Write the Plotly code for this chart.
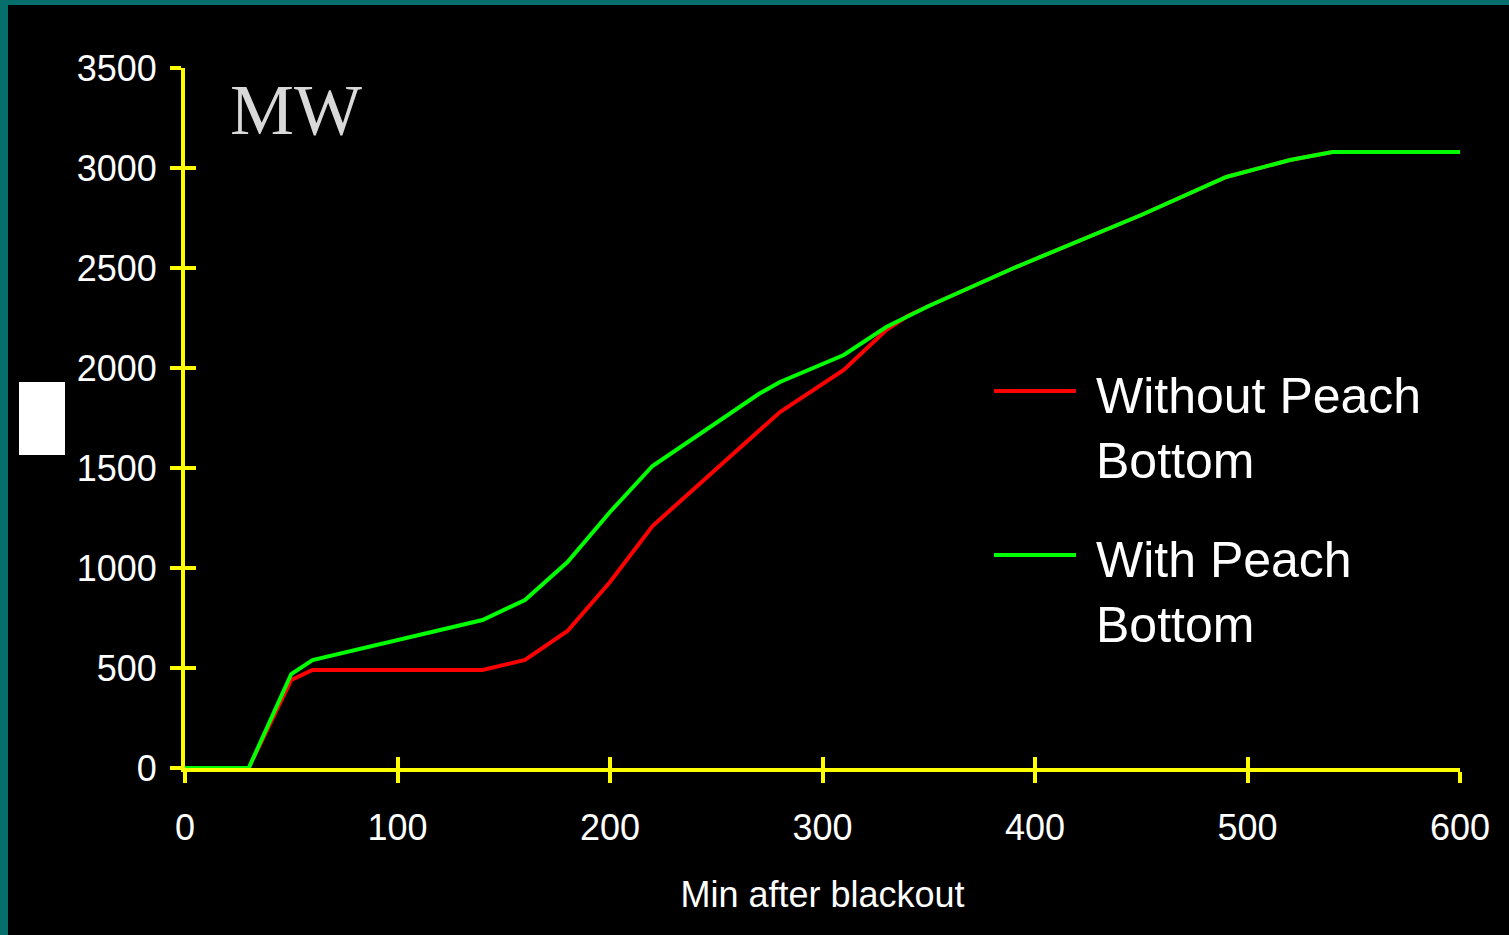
import plotly.graph_objects as go

# ---- data ----
minutes_without = [0, 30, 50, 60, 140, 160, 180, 200, 220, 270, 280, 310, 330, 340,
                   350, 390, 430, 450, 490, 520, 540, 600]
mw_without = [0, 0, 440, 490, 490, 540, 685, 930, 1210, 1690, 1780, 1990, 2190, 2260,
              2310, 2500, 2680, 2765, 2955, 3040, 3080, 3080]
minutes_with = [0, 30, 50, 60, 140, 160, 180, 200, 220, 270, 280, 310, 330, 340,
                350, 390, 430, 450, 490, 520, 540, 600]
mw_with = [0, 0, 470, 540, 740, 840, 1030, 1280, 1510, 1870, 1930, 2065, 2205, 2260,
           2310, 2500, 2680, 2765, 2955, 3040, 3080, 3080]
x_ticks = [0, 100, 200, 300, 400, 500, 600]
y_ticks = [0, 500, 1000, 1500, 2000, 2500, 3000, 3500]
series_names = ["Without Peach<br>Bottom", "With Peach<br>Bottom"]
series_colors = ["#ff0000", "#00ff00"]

W, H = 1509, 935
L, R, T, B = 185, 49, 68, 167
PW, PH = W - L - R, H - T - B


def px(x):
    return (x - L) / PW


def py(y):
    return (H - B - y) / PH


fig = go.Figure()
fig.add_trace(go.Scatter(x=minutes_without, y=mw_without, mode="lines",
                         line=dict(color=series_colors[0], width=4),
                         xaxis="x", yaxis="y", showlegend=False))
fig.add_trace(go.Scatter(x=minutes_with, y=mw_with, mode="lines",
                         line=dict(color=series_colors[1], width=4),
                         xaxis="x2", yaxis="y2", showlegend=False))

font_main = "Liberation Sans, Arial, sans-serif"
axis_common = dict(showgrid=False, zeroline=False, tickcolor="#ffff00", tickwidth=4,
                   ticklen=11)

fig.update_layout(
    width=W, height=H,
    margin=dict(l=L, r=R, t=T, b=B, pad=0),
    paper_bgcolor="#000000", plot_bgcolor="#000000",
    font=dict(family=font_main, color="#ffffff"),
    xaxis=dict(range=[0, 600], tickmode="array", tickvals=x_ticks, ticks="outside",
               showline=True, linecolor="#ffff00", linewidth=4,
               tickfont=dict(size=36, color="#ffffff"), ticklabelstandoff=14,
               title=dict(text="Min after blackout", font=dict(size=36, color="#ffffff"),
                          standoff=36),
               **axis_common),
    yaxis=dict(range=[0, 3500], tickmode="array", tickvals=y_ticks, ticks="outside",
               showline=True, linecolor="#ffff00", linewidth=4,
               tickfont=dict(size=36, color="#ffffff"), ticklabelstandoff=6,
               **axis_common),
    xaxis2=dict(matches="x", overlaying="x", anchor="y2", side="bottom", ticks="inside",
                tickmode="array", tickvals=x_ticks, showticklabels=False, showline=False,
                **axis_common),
    yaxis2=dict(matches="y", overlaying="y", anchor="x2", side="left", ticks="inside",
                tickmode="array", tickvals=y_ticks, showticklabels=False, showline=False,
                **axis_common),
)

shapes = [
    # teal frame (left and top)
    dict(type="rect", xref="paper", yref="paper", x0=px(0), x1=px(8), y0=py(935), y1=py(0),
         fillcolor="#066f6b", line=dict(width=0), layer="above"),
    dict(type="rect", xref="paper", yref="paper", x0=px(0), x1=px(1509), y0=py(5), y1=py(0),
         fillcolor="#066f6b", line=dict(width=0), layer="above"),
    # white block at left
    dict(type="rect", xref="paper", yref="paper", x0=px(19), x1=px(65), y0=py(455), y1=py(382),
         fillcolor="#ffffff", line=dict(width=0), layer="above"),
    # legend lines
    dict(type="line", xref="paper", yref="paper", x0=px(994), x1=px(1076), y0=py(391), y1=py(391),
         line=dict(color=series_colors[0], width=4)),
    dict(type="line", xref="paper", yref="paper", x0=px(994), x1=px(1076), y0=py(555), y1=py(555),
         line=dict(color=series_colors[1], width=4)),
]
fig.update_layout(shapes=shapes)

annotations = [
    dict(text="MW", xref="paper", yref="paper", x=px(228), y=py(68), xanchor="left", yanchor="top",
         showarrow=False, font=dict(family="Liberation Serif, Times New Roman, serif", size=72,
                                    color="#d9d9d9")),
    dict(text=series_names[0], xref="paper", yref="paper", x=px(1094), y=py(366), xanchor="left",
         yanchor="top", align="left", showarrow=False, font=dict(size=50, color="#ffffff")),
    dict(text=series_names[1], xref="paper", yref="paper", x=px(1094), y=py(530), xanchor="left",
         yanchor="top", align="left", showarrow=False, font=dict(size=50, color="#ffffff")),
]
fig.update_layout(annotations=annotations)

fig.write_html("out.html",
               config={"displayModeBar": False},
               post_script="document.body.style.margin='0';document.body.style.overflow='hidden';"
                           "document.body.style.background='#000';")
